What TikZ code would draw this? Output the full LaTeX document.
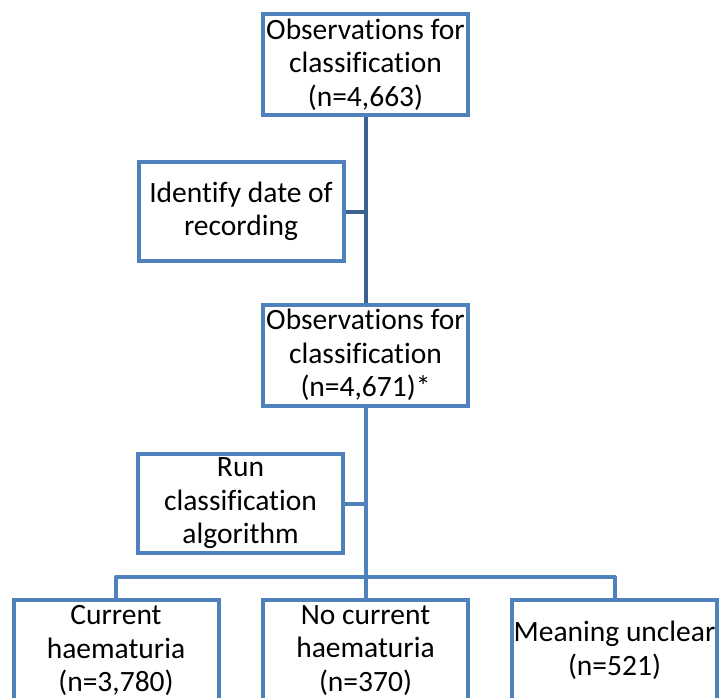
\documentclass[tikz,border=0pt]{standalone}
\usepackage{fontspec}
\setmainfont{Carlito}[Ligatures=CommonOff]
\usepackage{tikz}
\usetikzlibrary{positioning,calc}
\definecolor{box_blue}{RGB}{79, 129, 189}
\definecolor{trunk_navy}{RGB}{60, 98, 145}

\begin{document}
\begin{tikzpicture}[
    x=1pt, y=1pt,
    % Styles
    font=\fontsize{29.5}{33.5}\selectfont,
    line width=4pt,
    % Boxes
    stage/.style={
        rectangle,
        draw=box_blue,
        fill=white,
        minimum width=205pt,
        minimum height=101pt,
        inner sep=0pt,
        align=center
    },
    action/.style={
        stage,
        minimum height=99pt
    },
    link/.style={
        draw=box_blue,
        line width=4pt
    },
    link_upper/.style={
        link,
        draw=trunk_navy
    }
]

% --- FRAME ---
\useasboundingbox (0,0) rectangle (719,-697);
\clip (0,0) rectangle (719,-697);

% --- LAYOUT ---

% 1. Main column
\node[stage] (obs_first) at (365.5,-64.5) {Observations for\\classification\\(n=4,663)};
\node[stage] (obs_second) at (365.5,-355) {Observations for\\classification\\(n=4,671)*};

% 2. Side steps (left of the trunk)
\node[action] (identify) at (241,-211.5) {Identify date of\\recording};
\node[action] (run_algo) at (240.5,-503.5) {Run\\classification\\algorithm};

% 3. Outcomes (bottom row, cut by the frame)
\node[stage] (current) at (116,-650.5) {Current\\haematuria\\(n=3,780)};
\node[stage] (no_current) at (365.5,-650.5) {No current\\haematuria\\(n=370)};
\node[stage] (unclear) at (614.5,-650.5) {Meaning unclear\\(n=521)};

% --- CONNECTORS ---

% Trunk from first count to second count
\draw[link_upper] (obs_first.south) -- (obs_second.north);
\draw[link_upper] (identify.east) -- (identify.east -| obs_first.south);

% Trunk from second count to the outcomes
\coordinate (split) at (365.5,-577);
\draw[link] (obs_second.south) -- (no_current.north);
\draw[link] (run_algo.east) -- (run_algo.east -| obs_second.south);
\draw[link, line join=round] (current.north) -- (split -| current.north) -- (split -| unclear.north) -- (unclear.north);

\end{tikzpicture}
\end{document}
